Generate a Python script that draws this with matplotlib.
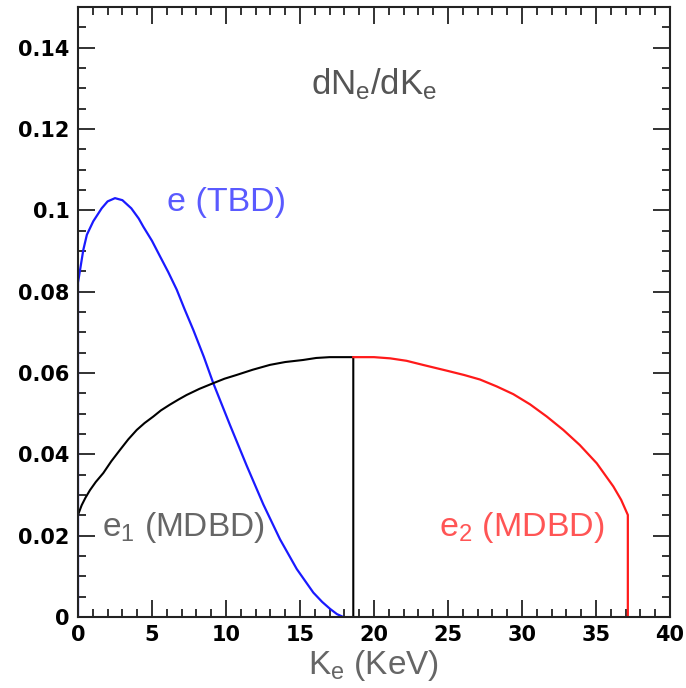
import matplotlib
matplotlib.use("Agg")
from matplotlib import pyplot as plt
from matplotlib.ticker import MultipleLocator

plt.rcParams["font.family"] = ["Liberation Sans", "DejaVu Sans"]
plt.rcParams["mathtext.fontset"] = "custom"
plt.rcParams["mathtext.rm"] = "Liberation Sans"
plt.rcParams["mathtext.it"] = "Liberation Sans"

# e (TBD) spectrum
tbd_k = [0.0, 0.0, 0.36, 0.6, 1.03, 1.6, 2.0, 2.5, 3.0, 3.6, 4.1, 4.41, 5.0,
         5.54, 6.1, 6.67, 7.2, 7.79, 8.5, 9.14, 10.27, 11.4, 12.52, 13.65,
         14.78, 15.9, 16.5, 17.03, 17.5, 17.93]
tbd_v = [0.0, 0.0822, 0.0903, 0.094, 0.0973, 0.1005, 0.1022, 0.103, 0.1025,
         0.1005, 0.098, 0.096, 0.0925, 0.0887, 0.0848, 0.0805, 0.0757, 0.0706,
         0.064, 0.0575, 0.0472, 0.0372, 0.0277, 0.0191, 0.0118, 0.006,
         0.0037, 0.002, 0.0007, 0.0]

# e1 (MDBD)
e1_k = [0.0, 0.25, 0.5, 0.81, 1.2, 1.71, 2.25, 2.84, 3.4, 3.97, 4.5, 5.09,
        5.6, 6.2, 6.8, 7.34, 8.2, 9.14, 9.9, 10.7, 11.8, 12.97, 14.0, 15.2,
        16.1, 17.0, 18.6, 18.6]
e1_v = [0.0251, 0.0275, 0.0293, 0.0312, 0.0332, 0.0354, 0.0383, 0.0411,
        0.0437, 0.046, 0.0477, 0.0493, 0.0508, 0.0522, 0.0535, 0.0546, 0.0561,
        0.0575, 0.0586, 0.0595, 0.0608, 0.062, 0.0627, 0.0632, 0.0637, 0.0639,
        0.0639, 0.0]

# e2 (MDBD)
e2_k = [18.6, 20.0, 21.1, 22.2, 23.3, 25.0, 26.1, 27.16, 28.29, 29.41, 30.54,
        31.67, 32.79, 33.9, 35.05, 36.17, 36.7, 37.15, 37.15]
e2_v = [0.0639, 0.0639, 0.0636, 0.063, 0.062, 0.0605, 0.0595, 0.0584,
        0.0567, 0.0548, 0.0523, 0.0493, 0.046, 0.0423, 0.0378, 0.0321, 0.0288,
        0.0251, 0.0]

yticks = [0, 0.02, 0.04, 0.06, 0.08, 0.1, 0.12, 0.14]
ylabels = ["0", "0.02", "0.04", "0.06", "0.08", "0.1", "0.12", "0.14"]

fig = plt.figure(figsize=(6.86, 6.88), dpi=100)
ax = fig.add_axes([0.1137, 0.1032, 0.8630, 0.8866])

ax.plot(tbd_k, tbd_v, color="#1a1aff", lw=1.6)
ax.plot(e1_k, e1_v, color="black", lw=1.5)
ax.plot(e2_k, e2_v, color="#ff1a1a", lw=1.6)

ax.set_xlim(0, 40)
ax.set_ylim(0, 0.15)
ax.xaxis.set_major_locator(MultipleLocator(5))
ax.xaxis.set_minor_locator(MultipleLocator(1))
ax.yaxis.set_minor_locator(MultipleLocator(0.005))
ax.set_yticks(yticks)
ax.set_yticklabels(ylabels)

ax.tick_params(which="both", direction="in", top=True, right=True,
               colors="#222222", pad=6)
ax.tick_params(which="major", length=12, width=1.3)
ax.tick_params(which="minor", length=6, width=1.3)
for lab in ax.get_xticklabels() + ax.get_yticklabels():
    lab.set_color("black")
    lab.set_fontfamily("DejaVu Sans")
    lab.set_fontweight("bold")
    lab.set_fontsize(15)
for s in ax.spines.values():
    s.set_linewidth(1.5)
    s.set_color("#222222")

ax.set_xlabel("K$_{\\mathrm{e}}$ (KeV)", fontsize=24, color="#666666", labelpad=2)

ax.text(20.0, 0.131, "dN$_{\\mathrm{e}}$/dK$_{\\mathrm{e}}$", fontsize=25,
        color="#555555", ha="center", va="center")
ax.text(10.0, 0.1019, "e (TBD)", fontsize=24.5, color="#5a5aff",
        ha="center", va="center")
ax.text(7.1, 0.0221, "e$_1$ (MDBD)", fontsize=24, color="#666666",
        ha="center", va="center")
ax.text(30.0, 0.0221, "e$_2$ (MDBD)", fontsize=24.5, color="#ff5555",
        ha="center", va="center")

plt.savefig("out.png", dpi=100)
